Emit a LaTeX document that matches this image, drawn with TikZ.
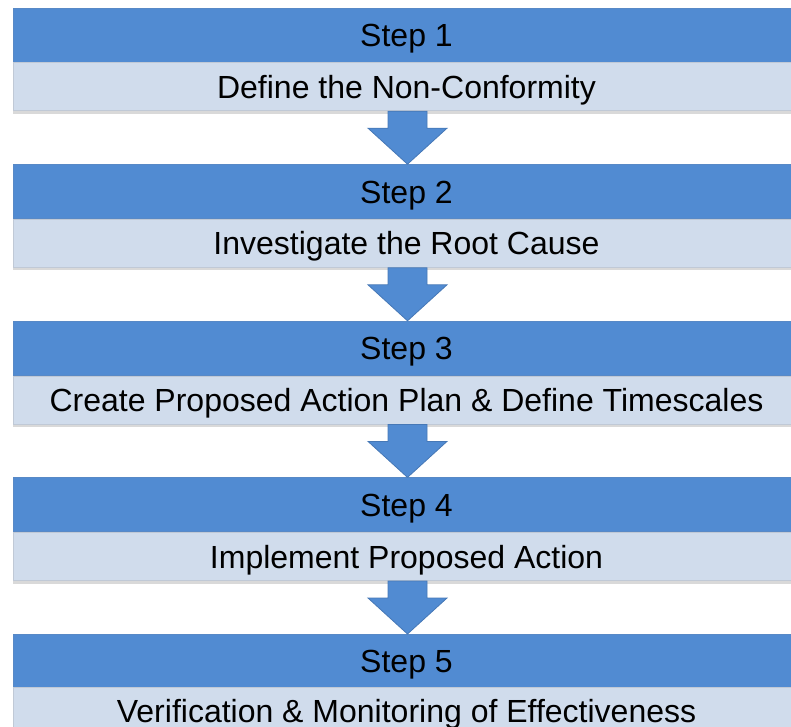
\documentclass[tikz,border=0pt]{standalone}
\usepackage{fontspec}
\setmainfont{Liberation Sans}
\usetikzlibrary{positioning,calc,shadows}
\definecolor{stepblue}{RGB}{81,139,210}
\definecolor{steplight}{RGB}{208,220,236}
\definecolor{stepedge}{RGB}{70,120,182}

\begin{document}
\begin{tikzpicture}[x=1pt,y=1pt,
  head/.style={fill=stepblue,draw=stepblue!85!gray,line width=0.8pt,
    minimum width=787pt,minimum height=54pt,inner sep=0pt,
    text height=23pt,text depth=0pt,font=\fontsize{32}{38}\selectfont},
  body/.style={fill=steplight,draw=steplight!80!gray,line width=0.8pt,
    minimum width=787pt,minimum height=48pt,inner sep=0pt,
    text height=23pt,text depth=0pt,font=\fontsize{32}{38}\selectfont,
    drop shadow={shadow xshift=0pt,shadow yshift=-3pt,opacity=.3}},
  flow/.style={fill=stepblue,draw=stepedge,line width=0.8pt,line join=miter}]
\useasboundingbox (0,0) rectangle (791,-726);
\node[head](step1) at (406.5,-35){Step 1};
\node[body,below=0pt of step1](desc1){Define the Non-Conformity};
\node[head,below=53pt of desc1](step2){Step 2};
\node[body,below=0pt of step2](desc2){Investigate the Root Cause};
\node[head,below=53pt of desc2](step3){Step 3};
\node[body,below=0pt of step3](desc3){Create Proposed Action Plan \& Define Timescales};
\node[head,below=53pt of desc3](step4){Step 4};
\node[body,below=0pt of step4](desc4){Implement Proposed Action};
\node[head,below=53pt of desc4](step5){Step 5};
\node[body,below=0pt of step5,yshift=2pt](desc5){Verification \& Monitoring of Effectiveness};
% block arrows between the steps
\foreach \a/\b in {desc1/step2,desc2/step3,desc3/step4,desc4/step5}
  \draw[flow] ($(\a.south)+(-18.5,0)$) -- ++(0,-17) -- ++(-20,0) -- ($(\b.north)+(1,0)$)
    -- ($(\a.south)+(40.5,-17)$) -- ++(-20,0) -- ($(\a.south)+(20.5,0)$) -- cycle;
\end{tikzpicture}
\end{document}
